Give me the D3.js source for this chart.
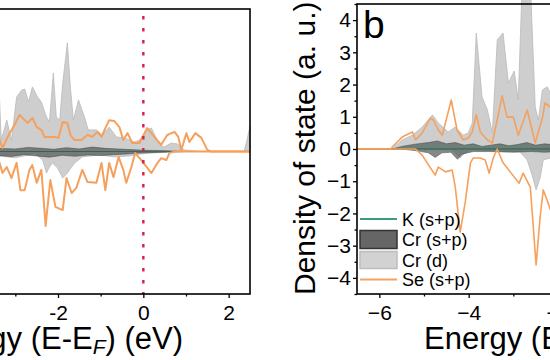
<!DOCTYPE html>
<html><head><meta charset="utf-8">
<script src="https://cdn.jsdelivr.net/npm/d3@7"></script>
<style>html,body{margin:0;padding:0;background:#fff;overflow:hidden}svg{display:block}text{font-family:"Liberation Sans",Arial,sans-serif}</style>
</head><body>
<script>
// ---------- DATA (energy in eV, DOS in a.u.) ----------
// Left panel
const leftCrdUp = [[-3.45,1.5],[-3.37,1.63],[-3.33,0.36],[-3.2,0.99],[-3.09,0.36],[-2.97,1.72],[-2.85,1.94],[-2.78,1.97],[-2.69,1.56],[-2.6,2.04],[-2.48,1.72],[-2.39,1.56],[-2.27,1.09],[-2.2,0.93],[-2.11,2.48],[-2.04,1.09],[-1.96,0.99],[-1.89,2.16],[-1.78,3.43],[-1.71,2.04],[-1.64,0.99],[-1.52,1.63],[-1.38,1.09],[-1.29,0.68],[-1.1,0.68],[-0.96,0.52],[-0.8,0.77],[-0.63,0.46],[-0.44,0.43],[-0.21,0.3],[-0.09,0.36],[0.07,0.68],[0.19,0.74],[0.3,0.43],[0.37,0.21],[0.49,0.14],[0.65,0.27],[0.8,0.24],[0.96,0.05],[1.19,0.02],[1.4,0],[2.36,0],[2.43,0.36],[2.48,0.68],[2.5,0.8]];
const leftCrdDown = [[-3.45,-0.12],[-3.37,-0.14],[-3.02,-0.2],[-2.67,-0.11],[-2.53,-0.05],[-2.5,-0.11],[-2.36,-0.27],[-2.27,-0.68],[-2.2,-0.49],[-2.13,-0.36],[-2.01,-0.52],[-1.89,-0.84],[-1.78,-0.68],[-1.61,-0.36],[-1.43,-0.17],[-1.03,-0.11],[-0.68,-0.17],[-0.33,-0.14],[-0.09,-0.08],[0.14,-0.05],[0.61,-0.02],[0.96,0],[2.5,0]];
const leftCrspUp = [[-3.45,0.1],[-3.0,0.08],[-2.7,0.13],[-2.4,0.1],[-2.1,0.07],[-1.8,0.12],[-1.5,0.08],[-1.2,0.14],[-0.9,0.1],[-0.6,0.08],[-0.3,0.06],[0.0,0.04],[0.4,0.03],[0.8,0.01],[1.0,0],[2.5,0]];
const leftCrspDown = [[-3.45,-0.12],[-3.1,-0.16],[-2.8,-0.1],[-2.5,-0.14],[-2.2,-0.18],[-1.9,-0.12],[-1.6,-0.15],[-1.3,-0.11],[-1.0,-0.13],[-0.7,-0.1],[-0.4,-0.08],[-0.1,-0.05],[0.3,-0.03],[0.7,-0.01],[1.0,0],[2.5,0]];
const leftKUp = [[-3.45,0.04],[-2.5,0.05],[-1.5,0.04],[-0.5,0.03],[0.5,0.01],[1.0,0],[2.5,0]];
const leftKDown = [[-3.45,-0.03],[-2.5,-0.04],[-1.5,-0.03],[-0.5,-0.02],[0.5,-0.01],[1.0,0],[2.5,0]];
const leftSeUp = [[-3.45,0.3],[-3.37,0.36],[-3.3,0.11],[-3.18,0.46],[-3.02,0.84],[-2.9,1.15],[-2.78,0.99],[-2.71,0.9],[-2.6,1.06],[-2.5,0.77],[-2.39,0.68],[-2.32,0.46],[-2.2,0.46],[-2.08,0.46],[-1.99,0.43],[-1.89,0.93],[-1.78,0.9],[-1.71,0.52],[-1.61,0.36],[-1.45,0.36],[-1.31,0.52],[-1.19,0.46],[-1.08,0.62],[-0.98,0.46],[-0.89,0.74],[-0.8,0.99],[-0.68,0.96],[-0.56,0.77],[-0.47,0.36],[-0.37,0.58],[-0.26,0.27],[-0.09,0.27],[0.09,0.74],[0.26,0.46],[0.42,0.21],[0.56,0.52],[0.73,0.62],[0.82,0.46],[0.89,0.05],[1.01,0.58],[1.08,0.3],[1.22,0.58],[1.36,0.43],[1.5,0.05],[1.59,0],[2.5,0]];
const leftSeDown = [[-3.45,-0.3],[-3.37,-0.36],[-3.3,-0.68],[-3.2,-0.49],[-3.09,-0.84],[-2.97,-0.36],[-2.88,-1.22],[-2.78,-1.22],[-2.67,-0.58],[-2.6,-0.43],[-2.5,-0.99],[-2.39,-0.58],[-2.29,-2.35],[-2.18,-0.9],[-2.06,-1.75],[-1.89,-1.85],[-1.8,-0.84],[-1.68,-1.31],[-1.57,-1.15],[-1.43,-0.58],[-1.31,-0.96],[-1.1,-0.99],[-0.98,-0.36],[-0.89,-1.22],[-0.8,-0.36],[-0.7,-0.81],[-0.58,-0.17],[-0.47,-0.58],[-0.4,-0.99],[-0.28,-0.49],[-0.19,-0.05],[-0.05,-0.27],[0.19,-0.68],[0.33,-0.36],[0.42,-0.21],[0.54,-0.27],[0.61,-0.05],[0.68,-0.02],[0.75,0],[2.5,0]];
// Right panel
const rightCrdUp = [[-6.5,0],[-5.71,0],[-5.49,0.28],[-5.26,0.43],[-5.04,0.68],[-4.81,1.06],[-4.68,0.81],[-4.46,0.53],[-4.3,0.68],[-4.12,0.43],[-4.01,0.5],[-3.92,0.8],[-3.83,3.6],[-3.7,1.61],[-3.58,1.21],[-3.47,0.5],[-3.36,3.39],[-3.23,3.6],[-3.11,2.05],[-2.98,2.42],[-2.89,1.52],[-2.8,5.2],[-2.62,5.2],[-2.51,1.3],[-2.44,0.9],[-2.35,1.83],[-2.24,1.93],[-2.13,1.61],[-1.95,1.5]];
const rightCrdDown = [[-6.5,0],[-4.41,0],[-4.3,-0.12],[-4.19,-0.28],[-4.08,-0.12],[-3.96,-0.03],[-3.29,-0.06],[-2.85,-0.09],[-2.69,-0.34],[-2.58,-0.81],[-2.49,-1.27],[-2.4,-0.9],[-2.33,-0.34],[-2.17,-0.28],[-2.04,-0.34]];
const rightCrspUp = [[-6.5,0],[-5.71,0],[-5.5,0.08],[-5.2,0.15],[-4.9,0.2],[-4.7,0.25],[-4.5,0.16],[-4.3,0.2],[-4.1,0.12],[-3.9,0.16],[-3.7,0.08],[-3.5,0.12],[-3.3,0.16],[-3.1,0.1],[-2.9,0.14],[-2.7,0.2],[-2.5,0.12],[-2.3,0.16],[-2.0,0.12]];
const rightCrspDown = [[-6.5,0],[-5.5,0],[-5.2,-0.05],[-4.9,-0.12],[-4.75,-0.26],[-4.6,-0.12],[-4.4,-0.1],[-4.25,-0.32],[-4.15,-0.16],[-3.9,-0.08],[-3.5,-0.08],[-3.0,-0.1],[-2.6,-0.08],[-2.3,-0.1],[-2.0,-0.08]];
const rightKUp = [[-6.5,0],[-5.7,0],[-5.3,0.06],[-4.8,0.12],[-4.4,0.08],[-4.0,0.1],[-3.6,0.06],[-3.2,0.08],[-2.8,0.1],[-2.4,0.08],[-2.0,0.06]];
const rightKDown = [[-6.5,0],[-5.7,0],[-5.0,-0.04],[-4.4,-0.05],[-3.6,-0.04],[-2.8,-0.05],[-2.0,-0.04]];
const rightSeUp = [[-6.5,0],[-5.75,0],[-5.49,0.37],[-5.26,0.53],[-5.19,0.28],[-5.04,0.5],[-4.86,0.96],[-4.79,0.9],[-4.68,0.59],[-4.59,0.43],[-4.39,1.52],[-4.26,0.59],[-4.12,0.28],[-4.01,0.34],[-3.92,0.53],[-3.83,1.06],[-3.74,0.53],[-3.58,0.28],[-3.47,0.19],[-3.25,1.65],[-3.14,0.99],[-3.0,0.99],[-2.89,0.43],[-2.69,1.21],[-2.51,0.19],[-2.35,0.96],[-2.29,1.43],[-2.17,1.3],[-2.04,1.2]];
const rightSeDown = [[-6.5,0],[-5.19,0],[-5.04,-0.19],[-4.93,-0.43],[-4.75,-0.81],[-4.68,-0.56],[-4.52,-0.71],[-4.37,-0.65],[-4.3,-1.18],[-4.19,-2.58],[-4.08,-1.68],[-3.96,-0.43],[-3.9,-0.28],[-3.74,-0.28],[-3.63,-0.34],[-3.54,-0.75],[-3.45,-0.28],[-3.36,0],[-3.23,-0.43],[-3.07,-0.71],[-2.87,-1.06],[-2.78,-0.75],[-2.62,-1.18],[-2.49,-3.6],[-2.4,-2.11],[-2.33,-1.27],[-2.22,-1.68],[-2.17,-1.89],[-2.04,-2.05]];
// Ticks / labels
const leftXTicks = [-2,0,2];
const leftXLabels = ["-2","0","2"];
const rightXTicks = [-6,-4,-2];
const rightXLabels = ["\u22126","\u22124","\u22122"];
const xMinorTicks = [-5,-3,-1,1];
const yTicks = [-4,-3,-2,-1,0,1,2,3,4];
const yMinorTicks = [-4.5,-3.5,-2.5,-1.5,-0.5,0.5,1.5,2.5,3.5,4.5];
const yLabels = ["\u22124","\u22123","\u22122","\u22121","0","1","2","3","4"];
const legendNames = ["K (s+p)","Cr (s+p)","Cr (d)","Se (s+p)"];
const fermiLevel = [0];

// ---------- STYLES ----------
const C = {crd:"#cecece", crdStroke:"#bababa", crsp:"#555555", crspStroke:"#3a3a3a", k:"#3a9e78", se:"#f5a05c", fermi:"#d4204a"};

const svg = d3.select("body").append("svg").attr("width",550).attr("height",360);

function panel(o){
  const g = svg.append("g");
  const x = d3.scaleLinear().domain([-6.5,2.5]).range(o.xr);
  const y = d3.scaleLinear().domain([-4.5,4.5]).range(o.yr);
  const area = d3.area().x(d=>x(d[0])).y0(y(0)).y1(d=>y(d[1]));
  const line = d3.line().x(d=>x(d[0])).y(d=>y(d[1]));
  [o.crdUp,o.crdDown].forEach(s=>g.append("path").attr("d",area(s)).attr("fill",C.crd).attr("stroke",C.crdStroke).attr("stroke-width",0.8));
  [o.crspUp,o.crspDown].forEach(s=>g.append("path").attr("d",area(s)).attr("fill",C.crsp).attr("fill-opacity",0.7).attr("stroke",C.crspStroke).attr("stroke-width",0.8).attr("stroke-opacity",0.6));
  [o.kUp,o.kDown].forEach(s=>{
    g.append("path").attr("d",area(s)).attr("fill",C.k).attr("fill-opacity",o.kOpacity);
    g.append("path").attr("d",line(s)).attr("fill","none").attr("stroke",C.k).attr("stroke-width",1).attr("stroke-opacity",o.kOpacity+0.15);
  });
  [o.seUp,o.seDown].forEach(s=>g.append("path").attr("d",line(s)).attr("fill","none").attr("stroke",C.se).attr("stroke-width",o.seW).attr("stroke-linejoin","round"));
  const r = o.yr[0];
  const ax = g.append("g").attr("transform",`translate(0,${r})`)
    .call(d3.axisBottom(x).tickValues(o.xTicks).tickSize(4).tickPadding(7).tickFormat((d,i)=>o.xLabels[i]));
  ax.select(".domain").remove();
  ax.selectAll("line").attr("stroke","#000").attr("stroke-width",1.3);
  ax.selectAll("text").attr("font-size",21).attr("fill","#000");
  const axm = g.append("g").attr("transform",`translate(0,${r})`)
    .call(d3.axisBottom(x).tickValues(xMinorTicks).tickSize(2.5).tickFormat(""));
  axm.select(".domain").remove();
  axm.selectAll("text").remove();
  axm.selectAll("line").attr("stroke","#000").attr("stroke-width",1.3);
  return {g,x,y};
}

// Left panel
const L = panel({xr:[-134,250], yr:[294,9], crdUp:leftCrdUp, crdDown:leftCrdDown, crspUp:leftCrspUp, crspDown:leftCrspDown,
  kUp:leftKUp, kDown:leftKDown, kOpacity:0.1, seUp:leftSeUp, seDown:leftSeDown, seW:2, xTicks:leftXTicks, xLabels:leftXLabels});
L.g.selectAll(".fermi").data(fermiLevel).enter().append("line")
  .attr("x1",d=>L.x(d)).attr("x2",d=>L.x(d)).attr("y1",16).attr("y2",294)
  .attr("stroke",C.fermi).attr("stroke-width",2.4).attr("stroke-dasharray","3.5,8.5");
L.g.append("rect").attr("x",-134).attr("y",9).attr("width",384).attr("height",285).attr("fill","none").attr("stroke","#000").attr("stroke-width",1.6);
L.g.append("text").attr("x",183).attr("y",349).attr("text-anchor","end").attr("font-size",31)
  .html('Energy (E-E<tspan font-style="italic" font-size="21" dy="5">F</tspan><tspan dy="-5">) (eV)</tspan>');

// Right panel
const R = panel({xr:[357,759], yr:[294,4], crdUp:rightCrdUp, crdDown:rightCrdDown, crspUp:rightCrspUp, crspDown:rightCrspDown,
  kUp:rightKUp, kDown:rightKDown, kOpacity:0.22, seUp:rightSeUp, seDown:rightSeDown, seW:1.6, xTicks:rightXTicks, xLabels:rightXLabels});
R.g.append("rect").attr("x",357).attr("y",4).attr("width",402).attr("height",290).attr("fill","none").attr("stroke","#000").attr("stroke-width",1.6);
const ay = R.g.append("g").attr("transform","translate(357,0)")
  .call(d3.axisLeft(R.y).tickValues(yTicks).tickSize(4).tickPadding(2).tickFormat((d,i)=>yLabels[i]));
ay.select(".domain").remove();
ay.selectAll("line").attr("stroke","#000").attr("stroke-width",1.3);
ay.selectAll("text").attr("font-size",21).attr("fill","#000");
const aym = R.g.append("g").attr("transform","translate(357,0)")
  .call(d3.axisLeft(R.y).tickValues(yMinorTicks).tickSize(2.5).tickFormat(""));
aym.select(".domain").remove();
aym.selectAll("text").remove();
aym.selectAll("line").attr("stroke","#000").attr("stroke-width",1.3);
R.g.append("text").attr("transform","translate(315,295) rotate(-90)").attr("font-size",30).text("Density of state (a. u.)");
R.g.append("text").attr("x",424).attr("y",349).attr("font-size",31)
  .html('Energy (E-E<tspan font-style="italic" font-size="21" dy="5">F</tspan><tspan dy="-5">) (eV)</tspan>');
R.g.append("text").attr("x",363).attr("y",38).attr("font-size",39).text("b");

// Legend
const lg = R.g.append("g");
const rowsY = [219,239.5,260,279.5];
lg.append("line").attr("x1",360).attr("x2",397).attr("y1",rowsY[0]).attr("y2",rowsY[0]).attr("stroke",C.k).attr("stroke-width",2);
lg.append("rect").attr("x",360).attr("y",rowsY[1]-9).attr("width",37).attr("height",18).attr("fill","#666").attr("stroke","#333").attr("stroke-width",1.5);
lg.append("rect").attr("x",360).attr("y",rowsY[2]-8.5).attr("width",37).attr("height",17).attr("fill","#d2d2d2").attr("stroke","#bdbdbd").attr("stroke-width",1.5);
lg.append("line").attr("x1",360).attr("x2",397).attr("y1",rowsY[3]).attr("y2",rowsY[3]).attr("stroke",C.se).attr("stroke-width",2);
lg.selectAll("text").data(legendNames).enter().append("text")
  .attr("x",402).attr("y",(d,i)=>rowsY[i]+6.5).attr("font-size",18).attr("fill","#000").text(d=>d);
</script>
</body></html>
